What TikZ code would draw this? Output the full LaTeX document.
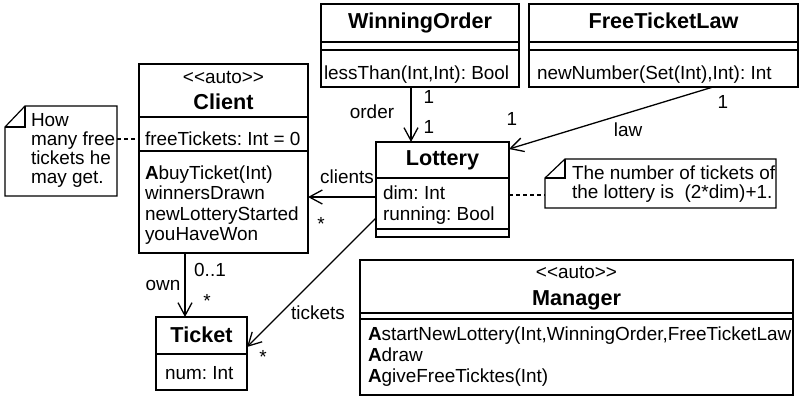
\documentclass[tikz,border=0pt]{standalone}
\usepackage{fontspec}
\setmainfont{Liberation Sans}[Ligatures=TeXOff]
\usetikzlibrary{arrows.meta,calc}
\frenchspacing

\begin{document}
\begin{tikzpicture}[x=1bp,y=-1bp,
  every node/.style={inner sep=0pt, outer sep=0pt},
  box/.style={draw, line width=1.3bp, rectangle, anchor=north west},
  area/.style={rectangle, anchor=north west},
  notef/.style={line width=1.2bp, line join=miter},
  txt/.style={font=\fontsize{19}{21}\selectfont, anchor=base west},
  ctxt/.style={font=\fontsize{19}{21}\selectfont, anchor=base},
  ttl/.style={font=\fontsize{21.7}{24}\selectfont\bfseries, anchor=base},
  lbl/.style={font=\fontsize{19}{21}\selectfont, anchor=center},
  sep/.style={line width=1.3bp},
  assoc/.style={line width=1.3bp, -{Straight Barb[length=13bp,width=14bp,line width=1.3bp]}},
  link/.style={line width=1.1bp, dash pattern=on 4bp off 3bp},
]
\useasboundingbox (0,0) rectangle (804,397);

% ---------- WinningOrder ----------
\node[box, minimum width=198bp, minimum height=83bp] (wo) at (321,4) {};
\draw[sep] ([yshift=-38bp]wo.north west) -- ([yshift=-38bp]wo.north east);
\draw[sep] ([yshift=-46bp]wo.north west) -- ([yshift=-46bp]wo.north east);
\node[ttl] (woT) at (420,28) {WinningOrder};
\node[txt] (woO) at (324,79) {lessThan(Int,Int): Bool};

% ---------- FreeTicketLaw ----------
\node[box, minimum width=269bp, minimum height=83bp] (ftl) at (529,4) {};
\draw[sep] ([yshift=-38bp]ftl.north west) -- ([yshift=-38bp]ftl.north east);
\draw[sep] ([yshift=-46bp]ftl.north west) -- ([yshift=-46bp]ftl.north east);
\node[ttl] (ftlT) at (663.5,28) {FreeTicketLaw};
\node[txt] (ftlO) at (537,79) {newNumber(Set(Int),Int): Int};

% ---------- Client ----------
\node[box, minimum width=169bp, minimum height=189bp] (client) at (139,64) {};
\draw[sep] ([yshift=-53bp]client.north west) -- ([yshift=-53bp]client.north east);
\draw[sep] ([yshift=-87bp]client.north west) -- ([yshift=-87bp]client.north east);
\node[ctxt] (clS) at (223.5,83) {<<auto>>};
\node[ttl] (clT) at (223.5,109) {Client};
\node[txt] (clA) at (145,145) {freeTickets: Int = 0};
\node[txt] (clO1) at (145,179) {\textbf{A}buyTicket(Int)};
\node[txt] (clO2) at (145,199.5) {winnersDrawn};
\node[txt] (clO3) at (145,220) {newLotteryStarted};
\node[txt] (clO4) at (145,240.5) {youHaveWon};

% ---------- note on Client ----------
\node[area, minimum width=112bp, minimum height=90bp] (note1) at (5,106) {};
\draw[notef] ($(note1.north west)+(20bp,0)$) -- (note1.north east) -- (note1.south east)
  -- (note1.south west) -- ($(note1.north west)+(0,-21bp)$) -- cycle;
\draw[notef] ($(note1.north west)+(0,-21bp)$) -- ($(note1.north west)+(20bp,-21bp)$)
  -- ($(note1.north west)+(20bp,0)$);
\node[txt] (n1a) at (31,126.5) {How};
\node[txt] (n1b) at (31,145.5) {many free};
\node[txt] (n1c) at (31,164.5) {tickets he};
\node[txt] (n1d) at (31,183.5) {may get.};

% ---------- Lottery ----------
\node[box, minimum width=133bp, minimum height=95bp] (lottery) at (376,142) {};
\draw[sep] ([yshift=-36bp]lottery.north west) -- ([yshift=-36bp]lottery.north east);
\draw[sep] ([yshift=-87bp]lottery.north west) -- ([yshift=-87bp]lottery.north east);
\node[ttl] (loT) at (442.5,165) {Lottery};
\node[txt] (loA1) at (383,199) {dim: Int};
\node[txt] (loA2) at (383,220) {running: Bool};

% ---------- note on Lottery ----------
\node[area, minimum width=231bp, minimum height=49bp] (note2) at (545,159) {};
\draw[notef] ($(note2.north west)+(20bp,0)$) -- (note2.north east) -- (note2.south east)
  -- (note2.south west) -- ($(note2.north west)+(0,-19bp)$) -- cycle;
\draw[notef] ($(note2.north west)+(0,-19bp)$) -- ($(note2.north west)+(20bp,-19bp)$)
  -- ($(note2.north west)+(20bp,0)$);
\node[txt] (n2a) at (572,179) {The number of tickets of};
\node[txt] (n2b) at (572,198) {the lottery is\ \ (2*dim)+1.};

% ---------- Ticket ----------
\node[box, minimum width=91bp, minimum height=73bp] (ticket) at (156,317) {};
\draw[sep] ([yshift=-37bp]ticket.north west) -- ([yshift=-37bp]ticket.north east);
\node[ttl] (tiT) at (201.5,342) {Ticket};
\node[txt] (tiA) at (165,379) {num: Int};

% ---------- Manager ----------
\node[box, minimum width=433bp, minimum height=135bp] (manager) at (360,260) {};
\draw[sep] ([yshift=-53bp]manager.north west) -- ([yshift=-53bp]manager.north east);
\draw[sep] ([yshift=-59bp]manager.north west) -- ([yshift=-59bp]manager.north east);
\node[ctxt] (maS) at (576.5,278) {<<auto>>};
\node[ttl] (maT) at (576.5,305) {Manager};
\node[txt] (maO1) at (368,340) {\textbf{A}startNewLottery(Int,WinningOrder,FreeTicketLaw};
\node[txt] (maO2) at (368,361) {\textbf{A}draw};
\node[txt] (maO3) at (368,382) {\textbf{A}giveFreeTicktes(Int)};

% ---------- reference lines for the connectors ----------
\coordinate (ordx) at (411,0);
\coordinate (lawx) at (713,0);
\coordinate (lawy) at (0,149);
\coordinate (cliy) at (0,197);
\coordinate (ownx) at (185,0);
\coordinate (tkA) at (0,218);
\coordinate (tkB) at (0,347);
\coordinate (n1y) at (0,139);
\coordinate (n2y) at (0,195);

% ---------- associations ----------
\draw[assoc] (wo.south -| ordx) -- (lottery.north -| ordx);
\draw[assoc] (ftl.south -| lawx) -- (lottery.east |- lawy);
\draw[assoc] (lottery.west |- cliy) -- (client.east |- cliy);
\draw[assoc] (client.south -| ownx) -- (ticket.north -| ownx);
\draw[assoc] (lottery.west |- tkA) -- (ticket.east |- tkB);

% ---------- note links ----------
\draw[link] (note1.east |- n1y) -- (client.west |- n1y);
\draw[link] (lottery.east |- n2y) -- (note2.west |- n2y);

% ---------- role names and multiplicities ----------
\node[lbl] (m1) at (429,97) {1};
\node[lbl] (r1) at (372,112) {order};
\node[lbl] (m2) at (429,127) {1};
\node[lbl] (m3) at (512,119) {1};
\node[lbl] (m4) at (723,102) {1};
\node[lbl] (r2) at (628,130) {law};
\node[lbl] (r3) at (347,177) {clients};
\node[lbl] (m5) at (321,224) {*};
\node[lbl] (m6) at (210,270) {0..1};
\node[lbl] (r4) at (163,285) {own};
\node[lbl] (m7) at (207,301) {*};
\node[lbl] (r5) at (318,313) {tickets};
\node[lbl] (m8) at (263,357) {*};
\end{tikzpicture}
\end{document}
